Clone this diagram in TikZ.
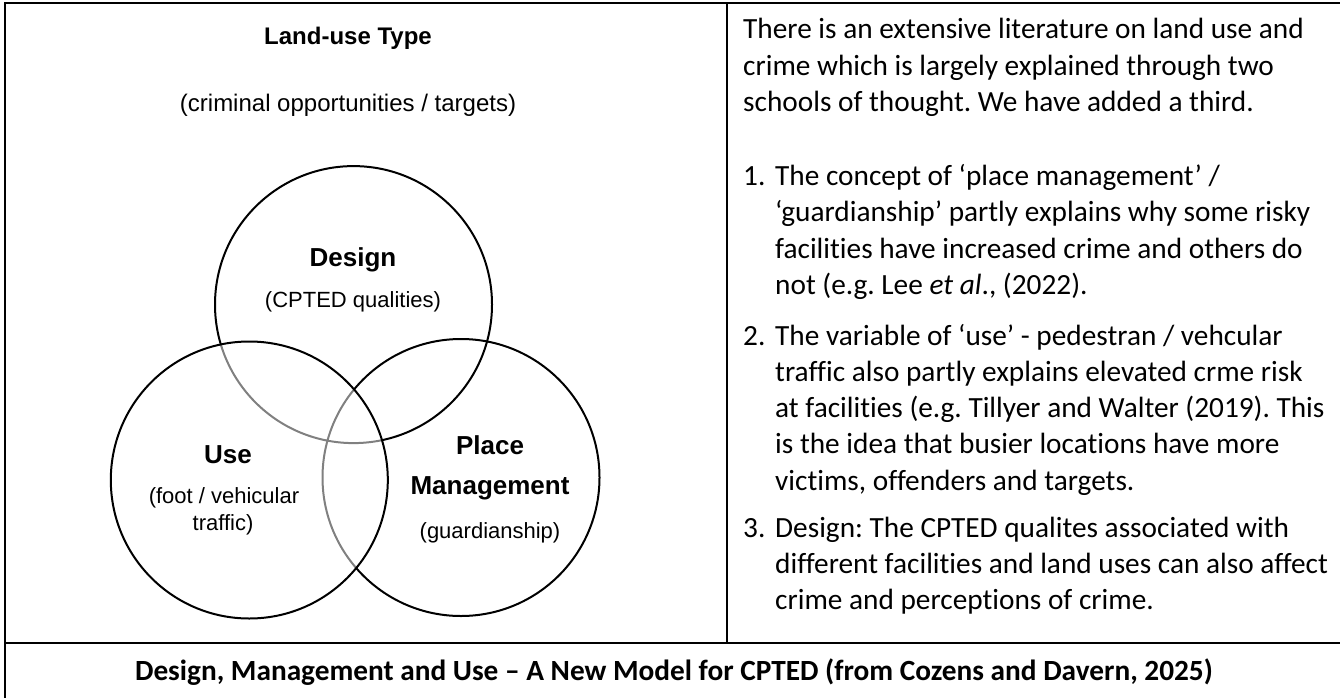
\documentclass[tikz,border=0pt]{standalone}
\usepackage{fontspec}
\setmainfont{Liberation Sans}
\newfontfamily\calfont[Ligatures={NoCommon}]{Carlito}
\frenchspacing
\begin{document}
\begin{tikzpicture}[x=1pt,y=-1pt,
  venn/.style={circle,draw=black,line width=2pt,minimum size=277pt,inner sep=0pt},
  vtitle/.style={font=\bfseries\fontsize{26}{30}\selectfont,inner sep=0pt},
  vsub/.style={font=\fontsize{22}{26}\selectfont,inner sep=0pt},
  rline/.style={anchor=base west,inner sep=0pt,font=\calfont\fontsize{29.3}{36}\selectfont},
  captext/.style={anchor=base,inner sep=0pt,font=\calfont\bfseries\fontsize{29.3}{36}\selectfont}]
\useasboundingbox (0,0) rectangle (1340,698);
% frame
\coordinate (bl) at (5,698);
\coordinate (tl) at (5,3);
\coordinate (tr) at (1340,3);
\coordinate (ml) at (5,643);
\coordinate (mr) at (1340,643);
\coordinate (dt) at (727,3);
\coordinate (db) at (727,643);
\draw[line width=2pt] (bl) -- (tl) -- (tr);
\draw[line width=2.5pt] (ml) -- (mr);
\draw[line width=1.5pt] (dt) -- (db);
% left panel
\node[font=\bfseries\fontsize{24}{28}\selectfont,inner sep=0pt] (title) at (348,38) {Land-use Type};
\node[font=\fontsize{24}{28}\selectfont,inner sep=0pt] (subtitle) at (348,105) {(criminal opportunities / targets)};
\node[venn] (design) at (353.5,304.6) {};
\node[venn] (pm) at (461,477.5) {};
\node[venn,fill=white,fill opacity=0.5] (use) at (249.3,480) {};
\node[vtitle] (designT) at (353,260) {Design};
\node[vsub] (designS) at (353,302) {(CPTED qualities)};
\node[vtitle] (useT) at (228,455) {Use};
\node[vsub] (useS1) at (224,498) {(foot / vehicular};
\node[vsub] (useS2) at (223,525) {traffic)};
\node[vtitle] (pmT1) at (490,445) {Place};
\node[vtitle] (pmT2) at (490,488) {Management};
\node[vsub] (pmS) at (490,533) {(guardianship)};
% right panel
\node[rline] (r1) at (743,39) {There is an extensive literature on land use and};
\node[rline] (r2) at (743,75.5) {crime which is largely explained through two};
\node[rline] (r3) at (743,112) {schools of thought. We have added a third.};
\node[rline] (n1) at (743,185) {1.};
\node[rline] (a1) at (775,185) {The concept of ‘place management’ /};
\node[rline] (a2) at (775,221.5) {‘guardianship’ partly explains why some risky};
\node[rline] (a3) at (775,258) {facilities have increased crime and others do};
\node[rline] (a4) at (775,294.5) {not (e.g. Lee \textit{et al}., (2022).};
\node[rline] (n2) at (743,345) {2.};
\node[rline] (b1) at (775,345) {The variable of ‘use’ - pedestran / vehcular};
\node[rline] (b2) at (775,381) {traffic also partly explains elevated crme risk};
\node[rline] (b3) at (775,417) {at facilities (e.g. Tillyer and Walter (2019). This};
\node[rline] (b4) at (775,453.5) {is the idea that busier locations have more};
\node[rline] (b5) at (775,490) {victims, offenders and targets.};
\node[rline] (n3) at (743,537) {3.};
\node[rline] (c1) at (775,537) {Design: The CPTED qualites associated with};
\node[rline] (c2) at (775,573) {different facilities and land uses can also affect};
\node[rline] (c3) at (775,609) {crime and perceptions of crime.};
% caption
\node[captext] (caption) at (674,680) {Design, Management and Use – A New Model for CPTED (from Cozens and Davern, 2025)};
\end{tikzpicture}
\end{document}
